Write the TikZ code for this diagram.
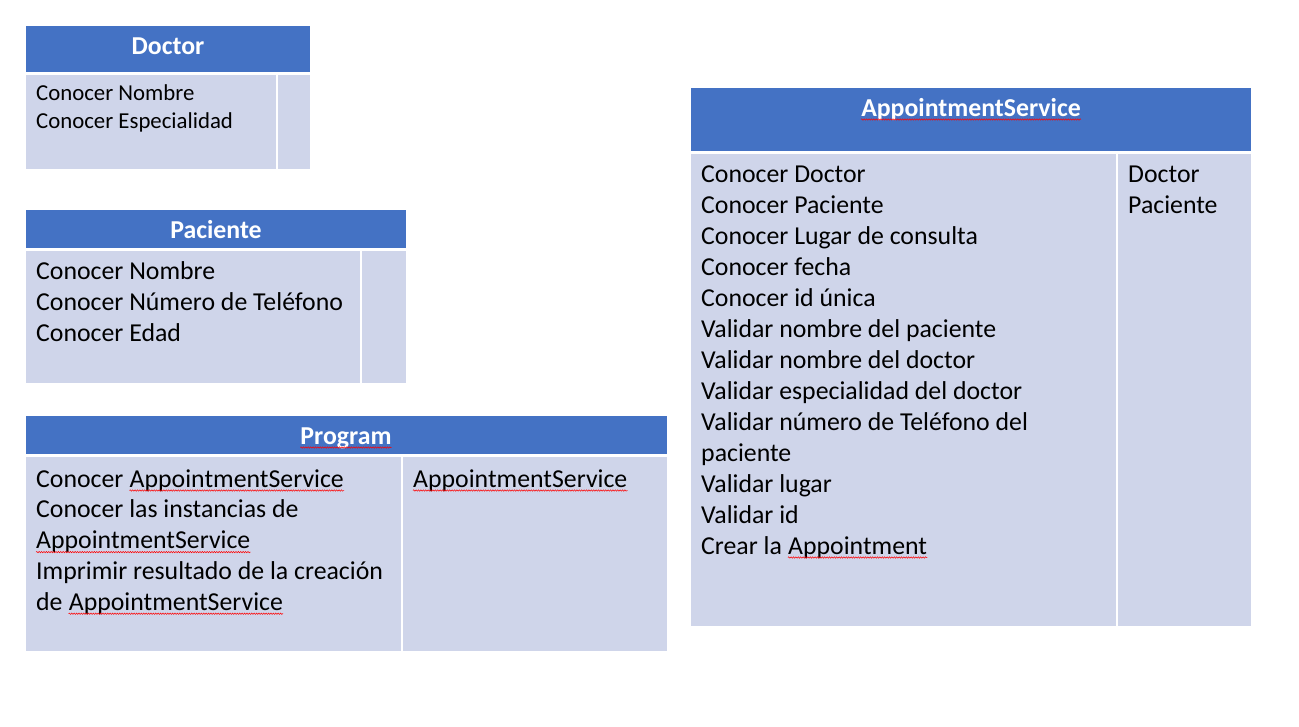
\documentclass[tikz,border=0pt]{standalone}
\usepackage{fontspec}
\setmainfont{Carlito}
\usepackage{xcolor}
\usetikzlibrary{positioning}
\usetikzlibrary{decorations.pathmorphing}
\definecolor{hdrblue}{HTML}{4472C4}
\definecolor{cellblue}{HTML}{CFD5EA}

\begin{document}
\begin{tikzpicture}[x=1pt,y=-1pt,
  hdr/.style={fill=hdrblue},
  cell/.style={fill=cellblue},
  hdrtxt/.style={text=white,font=\fontsize{25.8}{30}\selectfont\bfseries,inner sep=0pt,anchor=base},
  txt/.style={font=\fontsize{25.8}{31}\selectfont,inner sep=0pt,anchor=base west},
  smalltxt/.style={font=\fontsize{22.8}{28}\selectfont,inner sep=0pt,anchor=base west},
  squiggle/.style={draw=red,line width=0.5pt,decorate,
    decoration={snake,amplitude=0.7pt,segment length=2.4pt}}]
\useasboundingbox[fill=white] (0,0) rectangle (1299,726);

% Doctor
\path[hdr] (26,26) rectangle (310,72);
\path[cell] (26,75) rectangle (276,169);
\path[cell] (278,75) rectangle (310,169);
\node[hdrtxt] (doc-h) at (168,54) {Doctor};
\foreach \t [count=\i from 0] in {Conocer Nombre, Conocer Especialidad}
  \node[smalltxt] (doc-\i) at (36,100+28*\i) {\t};

% Paciente
\path[hdr] (26,210) rectangle (406,248);
\path[cell] (26,251) rectangle (360,383);
\path[cell] (362,251) rectangle (406,383);
\node[hdrtxt] (pac-h) at (216,238) {Paciente};
\foreach \t [count=\i from 0] in {Conocer Nombre, Conocer Número de Teléfono, Conocer Edad}
  \node[txt] (pac-\i) at (36,279+31*\i) {\t};

% Program
\path[hdr] (26,416) rectangle (667,454);
\path[cell] (26,457) rectangle (401,651);
\path[cell] (403,457) rectangle (667,651);
\node[hdrtxt] (prog-h) at (346,444) {Program};
\node[txt] (prog-0) at (36,487) {Conocer\ \hbox{}};
\node[txt] (prog-0w) at (prog-0.base east) {AppointmentService};
\node[txt] (prog-1) at (36,517.8) {Conocer las instancias de};
\node[txt] (prog-2w) at (36,548.6) {AppointmentService};
\node[txt] (prog-3) at (36,579.4) {Imprimir resultado de la creación};
\node[txt] (prog-4) at (36,610.2) {de\ \hbox{}};
\node[txt] (prog-4w) at (prog-4.base east) {AppointmentService};
\node[txt] (prog-c) at (413,487) {AppointmentService};
\foreach \w in {prog-h,prog-0w,prog-2w,prog-4w,prog-c}
  \draw[squiggle] ([yshift=-3.5pt]\w.base west) -- ([yshift=-3.5pt]\w.base east);

% AppointmentService
\path[hdr] (691,88) rectangle (1251,151);
\path[cell] (691,154) rectangle (1116,626);
\path[cell] (1118,154) rectangle (1251,626);
\node[hdrtxt] (app-h) at (971,116) {AppointmentService};
\foreach \t [count=\i from 0] in {Conocer Doctor, Conocer Paciente, Conocer Lugar de consulta,
  Conocer fecha, Conocer id única, Validar nombre del paciente, Validar nombre del doctor,
  Validar especialidad del doctor, Validar número de Teléfono del, paciente, Validar lugar,
  Validar id}
  \node[txt] (app-\i) at (701,182+31*\i) {\t};
\node[txt] (app-12) at (701,554) {Crear la\ \hbox{}};
\node[txt] (app-12w) at (app-12.base east) {Appointment};
\foreach \t [count=\i from 0] in {Doctor, Paciente}
  \node[txt] (app-c\i) at (1128,182+31*\i) {\t};
\foreach \w in {app-h,app-12w}
  \draw[squiggle] ([yshift=-3.5pt]\w.base west) -- ([yshift=-3.5pt]\w.base east);
\end{tikzpicture}
\end{document}
